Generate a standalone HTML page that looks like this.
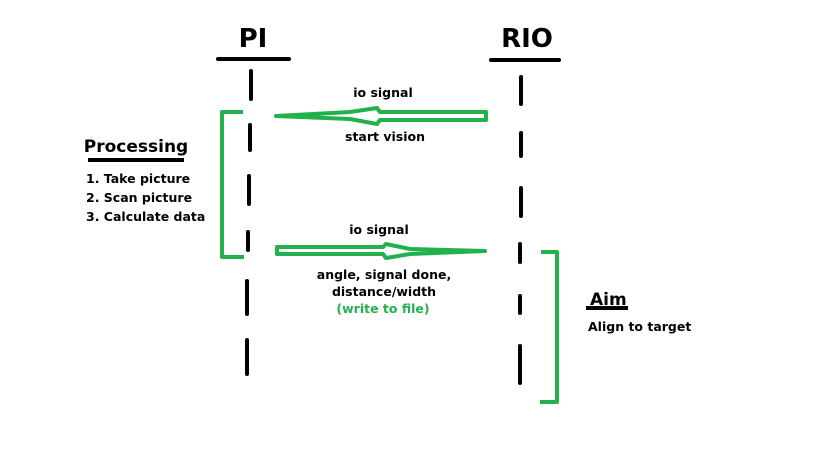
<!DOCTYPE html>
<html><head><style>
body{margin:0;background:#fff;}
svg{display:block;}
text{font-family:"DejaVu Sans","Liberation Sans",sans-serif;font-weight:bold;fill:#000;}
</style></head><body>
<svg width="819" height="460" viewBox="0 0 819 460" xmlns="http://www.w3.org/2000/svg">
<rect width="819" height="460" fill="#fff"/>
<text x="253" y="47" font-size="26" text-anchor="middle">PI</text>
<text x="527" y="47" font-size="26" text-anchor="middle">RIO</text>
<g stroke="#000" stroke-width="4" stroke-linecap="round">
<line x1="218" y1="59" x2="289" y2="59"/>
<line x1="491" y1="60" x2="559" y2="60"/>
<line x1="251" y1="71" x2="251" y2="99"/>
<line x1="250" y1="125" x2="250" y2="150"/>
<line x1="249" y1="176" x2="249" y2="204"/>
<line x1="248" y1="232" x2="248" y2="250"/>
<line x1="247" y1="281" x2="247" y2="314"/>
<line x1="247" y1="340" x2="247" y2="374"/>
<line x1="521" y1="77" x2="521" y2="104"/>
<line x1="521" y1="133" x2="521" y2="156"/>
<line x1="521" y1="188" x2="521" y2="216"/>
<line x1="520" y1="244" x2="520" y2="262"/>
<line x1="520" y1="296" x2="520" y2="313"/>
<line x1="520" y1="346" x2="520" y2="383"/>
</g>
<g stroke="#22b14c" stroke-width="4" fill="none" stroke-linejoin="round">
<polyline points="243,112 222,112 222,257 244,257"/>
<polyline points="541,252 557,252 557,402 540,402"/>
<polygon points="486,112 486,120 380,120 377,124 350,119 276,116 350,112 377,108 380,112"/>
<polygon points="277,247 277,254 383,254 386,258 410,254 485,251 410,249 386,244 383,247"/>
<line x1="88" y1="160" x2="184" y2="160" stroke="#000"/>
<line x1="586" y1="308" x2="628" y2="308" stroke="#000"/>
</g>
<text x="136" y="152" font-size="17" text-anchor="middle">Processing</text>
<text x="86" y="183" font-size="12.5">1. Take picture</text>
<text x="86" y="202" font-size="12.5">2. Scan picture</text>
<text x="86" y="221" font-size="12.5">3. Calculate data</text>
<text x="383" y="97" font-size="12.5" text-anchor="middle">io signal</text>
<text x="385" y="141" font-size="12.5" text-anchor="middle">start vision</text>
<text x="379" y="234" font-size="12.5" text-anchor="middle">io signal</text>
<text x="384" y="279" font-size="12.5" text-anchor="middle">angle, signal done,</text>
<text x="384" y="296" font-size="12.5" text-anchor="middle">distance/width</text>
<text x="383" y="313" font-size="12.5" text-anchor="middle" style="fill:#22b14c">(write to file)</text>
<text x="590" y="305" font-size="17">Aim</text>
<text x="588" y="331" font-size="12.5">Align to target</text>
</svg>
</body></html>
